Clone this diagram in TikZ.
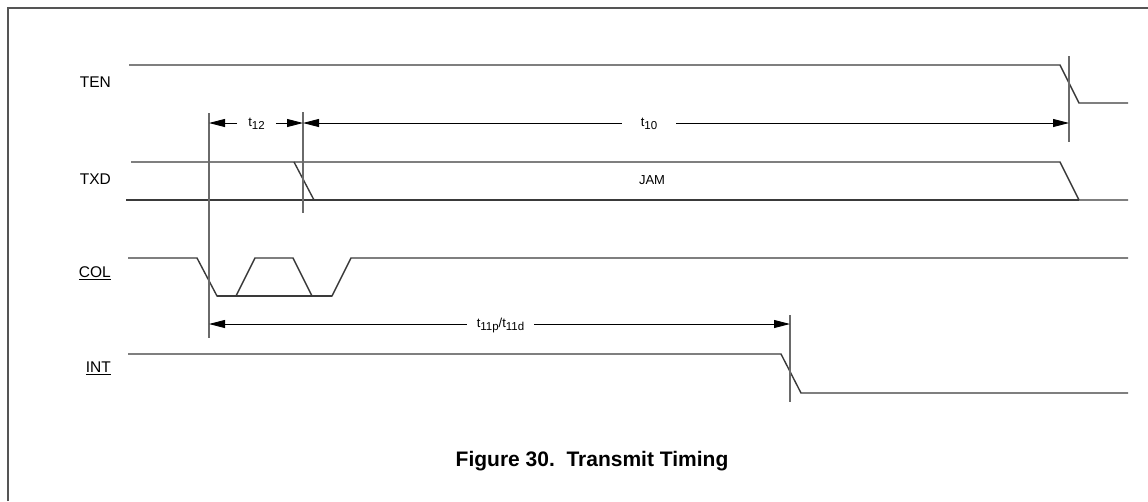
\documentclass[tikz,border=0pt]{standalone}
\usepackage{fontspec}
\setmainfont{Liberation Sans}
\usetikzlibrary{arrows.meta}
\definecolor{wiregray}{HTML}{3a3a3a}
\definecolor{markgray}{HTML}{6a6a6a}
\definecolor{framegray}{HTML}{555555}

\newcommand{\tsub}[1]{\raisebox{-3pt}{\fontsize{11.5}{13}\selectfont #1}}

\tikzset{
  wave/.style={draw=wiregray, line width=1.4pt},
  markline/.style={draw=markgray, line width=1.3pt},
  dimarrow/.style={draw=black, line width=0.9pt, -{Triangle[length=16pt, width=8pt]}},
  signame/.style={anchor=east, inner sep=0pt, font=\fontsize{15.5}{17}\selectfont},
  dimtext/.style={inner ysep=0pt, font=\fontsize{13}{15}\selectfont},
  busname/.style={inner sep=0pt, font=\fontsize{13}{15}\selectfont}
}

\begin{document}
\begin{tikzpicture}[x=1pt, y=-1pt]
  \useasboundingbox (0,0) rectangle (1148,501);
  \draw[framegray, line width=1.5pt] (8,501) -- (8,8) -- (1148,8);

  % signal names
  \node[signame] (ten) at (111,82) {TEN};
  \node[signame] (txd) at (111,179) {TXD};
  \node[signame] (col) at (111,273) {\underline{COL}};
  \node[signame] (int) at (111,368) {\underline{INT}};

  % waveforms
  \draw[wave] (129,65) -- (1060,65) -- (1079,103) -- (1128,103);
  \draw[wave] (131,162) -- (1060,162) -- (1079,200) -- (1128,200);
  \draw[wave] (126,200) -- (1079,200);
  \draw[wave] (294,162) -- (314,200);
  \node[busname] (jam) at (652,180) {JAM};
  \draw[wave] (128,258) -- (197,258) -- (217,296) -- (236,296) -- (255,258)
    -- (293,258) -- (312,296) -- (332,296) -- (351,258) -- (1128,258);
  \draw[wave] (217,296) -- (332,296);
  \draw[wave] (128,354) -- (781,354) -- (801,393) -- (1128,393);

  % timing markers
  \draw[markline] (209,113) -- (209,338);
  \draw[markline] (303,112) -- (303,213);
  \draw[markline] (1069,56) -- (1069,142);
  \draw[markline] (790,315) -- (790,402);
  \coordinate (colfall) at (209,123);
  \coordinate (txdfall) at (303,123);
  \coordinate (tenfall) at (1069,123);
  \coordinate (colstart) at (209,324);
  \coordinate (intfall) at (790,324);

  % dimension arrows
  \node[dimtext, inner xsep=11pt] (t12) at (256.5,124) {t\tsub{12}};
  \draw[dimarrow] (t12.west |- colfall) -- (colfall);
  \draw[dimarrow] (t12.east |- txdfall) -- (txdfall);
  \node[dimtext, inner xsep=19pt] (t10) at (649,124) {t\tsub{10}};
  \draw[dimarrow] (t10.west |- txdfall) -- (txdfall);
  \draw[dimarrow] (t10.east |- tenfall) -- (tenfall);
  \node[dimtext, inner xsep=10pt] (t11) at (500.5,325) {t\tsub{11p}/t\tsub{11d}};
  \draw[dimarrow] (t11.west |- colstart) -- (colstart);
  \draw[dimarrow] (t11.east |- intfall) -- (intfall);

  % caption
  \node[font=\bfseries\fontsize{21}{24}\selectfont] (caption) at (592,461)
    {Figure 30.\ \ Transmit Timing};
\end{tikzpicture}
\end{document}
